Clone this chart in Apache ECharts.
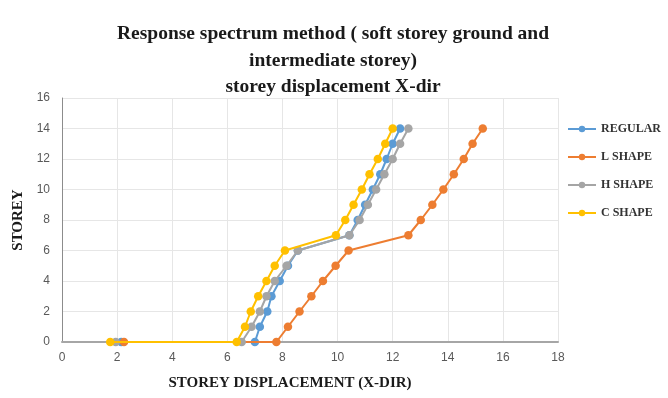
<!DOCTYPE html>
<html><head><meta charset="utf-8">
<script src="https://cdn.jsdelivr.net/npm/echarts@6/dist/echarts.min.js"></script>
<style>html,body{margin:0;padding:0;background:#fff}#c{width:668px;height:398px}</style>
</head><body><div id="c"></div>
<script>
const storeys = [0,0,1,2,3,4,5,6,7,8,9,10,11,12,13,14];
const regular = [2.15,7.0,7.18,7.45,7.6,7.9,8.2,8.56,10.43,10.73,11.0,11.28,11.55,11.78,12.0,12.27];
const lShape  = [2.25,7.78,8.2,8.62,9.05,9.47,9.93,10.4,12.57,13.02,13.44,13.84,14.22,14.58,14.9,15.27];
const hShape  = [1.95,6.52,6.88,7.18,7.42,7.72,8.15,8.56,10.43,10.8,11.1,11.4,11.7,12.0,12.27,12.57];
const cShape  = [1.75,6.34,6.64,6.85,7.12,7.42,7.72,8.09,9.94,10.28,10.58,10.88,11.16,11.46,11.73,12.0];
const seriesNames = ['REGULAR','L SHAPE','H SHAPE','C SHAPE'];
const seriesColors = ['#5B9BD5','#ED7D31','#A5A5A5','#FFC000'];
const xTicks = {min:0,max:18,interval:2};
const yTicks = {min:0,max:16,interval:2};

const vals = [regular,lShape,hShape,cShape];
const chart = echarts.init(document.getElementById('c'),null,{renderer:'canvas'});
const serif = "'Liberation Serif', 'DejaVu Serif', serif";
chart.setOption({
  animation:false,
  backgroundColor:'#fff',
  title:{
    text:'Response spectrum method ( soft storey ground and\nintermediate storey)\nstorey displacement X-dir',
    left:328, textAlign:'center', top:16,
    textStyle:{fontFamily:serif,fontWeight:'bold',fontSize:19.5,lineHeight:26.5,color:'#1a1a1a'}
  },
  legend:{
    orient:'vertical', left:562, top:118, itemGap:16, itemWidth:28, itemHeight:8,
    data:seriesNames,
    textStyle:{fontFamily:serif,fontWeight:'bold',fontSize:12,color:'#333'}
  },
  grid:{left:62,right:110,top:98,bottom:56,containLabel:false},
  xAxis:{
    type:'value', min:xTicks.min, max:xTicks.max, interval:xTicks.interval,
    name:'STOREY DISPLACEMENT (X-DIR)', nameLocation:'middle', nameGap:34,
    nameTextStyle:{fontFamily:serif,fontWeight:'bold',fontSize:15,color:'#1a1a1a',padding:[0,40,0,0]},
    axisLine:{show:true,lineStyle:{color:'#a6a6a6',width:2}},
    axisTick:{show:false},
    axisLabel:{fontFamily:"'Liberation Sans',sans-serif",fontSize:12,color:'#595959',margin:10},
    splitLine:{show:true,lineStyle:{color:'#e6e6e6'}}
  },
  yAxis:{
    type:'value', min:yTicks.min, max:yTicks.max, interval:yTicks.interval,
    name:'STOREY', nameLocation:'middle', nameGap:32, nameRotate:90,
    nameTextStyle:{fontFamily:serif,fontWeight:'bold',fontSize:15,color:'#1a1a1a'},
    axisLine:{show:true,lineStyle:{color:'#8c8c8c',width:1}},
    axisTick:{show:false},
    axisLabel:{fontFamily:"'Liberation Sans',sans-serif",fontSize:12,color:'#595959',margin:12},
    splitLine:{show:true,lineStyle:{color:'#e6e6e6'}}
  },
  series: seriesNames.map((n,i)=>({
    name:n, type:'line', color:seriesColors[i],
    data: vals[i].map((v,k)=>[v,storeys[k]]),
    symbol:'circle', symbolSize:8.5, showSymbol:true,
    lineStyle:{width:2,color:seriesColors[i]},
    itemStyle:{color:seriesColors[i]},
    z:2+i
  }))
});
</script></body></html>
